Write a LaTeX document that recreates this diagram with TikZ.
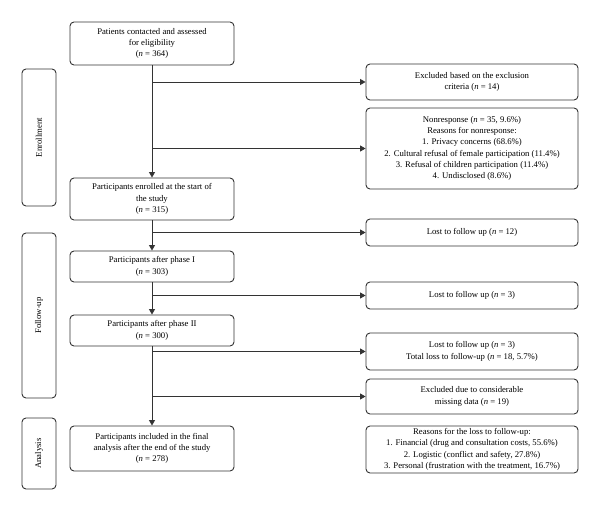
\documentclass[tikz,border=0pt]{standalone}
\usepackage{fontspec}
\setmainfont{Liberation Serif}
\usetikzlibrary{arrows.meta}
\begin{document}
\begin{tikzpicture}[x=1pt,y=-1pt,
  box/.style={draw=black!80, line width=0.9pt, rounded corners=4pt, align=center, inner sep=1pt, text=black,
    font=\fontsize{8.7}{11.3}\selectfont},
  mainbox/.style={box, minimum width=164pt},
  sidebox/.style={box, minimum width=212pt},
  stage/.style={box, minimum width=34pt, rotate=90},
  conn/.style={draw=black!80, line width=0.9pt},
  arr/.style={conn, -{Triangle[length=5.5pt,width=6pt]}}]
\useasboundingbox (0,0) rectangle (600,511);
% main column
\node[mainbox, minimum height=43pt] (b1) at (152,43.5) {Patients contacted and assessed\\for eligibility\\(\textit{n} = 364)};
\node[mainbox, minimum height=42pt] (b2) at (152,199) {Participants enrolled at the start of\\the study\\(\textit{n} = 315)};
\node[mainbox, minimum height=31pt] (b3) at (152,266.5) {Participants after phase I\\(\textit{n} = 303)};
\node[mainbox, minimum height=31pt] (b4) at (152,330.5) {Participants after phase II\\(\textit{n} = 300)};
\node[mainbox, minimum height=45pt] (b5) at (152,448.5) {Participants included in the final\\analysis after the end of the study\\(\textit{n} = 278)};
% stage labels
\node[stage, minimum width=137pt, minimum height=34pt] (s1) at (39,137.5) {Enrollment};
\node[stage, minimum width=165pt, minimum height=34pt] (s2) at (39,315.5) {Follow-up};
\node[stage, minimum width=71pt, minimum height=34pt] (s3) at (39,453.5) {Analysis};
% right column
\node[sidebox, minimum height=36pt] (r1) at (472,82) {Excluded based on the exclusion\\criteria (\textit{n} = 14)};
\node[sidebox, minimum height=81pt] (r2) at (472,148.5) {Nonresponse (\textit{n} = 35, 9.6\%)\\Reasons for nonresponse:\\1. Privacy concerns (68.6\%)\\2. Cultural refusal of female participation (11.4\%)\\3. Refusal of children participation (11.4\%)\\4. Undisclosed (8.6\%)};
\node[sidebox, minimum height=27pt] (r3) at (472,232.5) {Lost to follow up (\textit{n} = 12)};
\node[sidebox, minimum height=27pt] (r4) at (472,295.5) {Lost to follow up (\textit{n} = 3)};
\node[sidebox, minimum height=37pt] (r5) at (472,351.5) {Lost to follow up (\textit{n} = 3)\\Total loss to follow-up (\textit{n} = 18, 5.7\%)};
\node[sidebox, minimum height=35pt] (r6) at (472,396.5) {Excluded due to considerable\\missing data (\textit{n} = 19)};
\node[sidebox, minimum height=47pt] (r7) at (472,449.5) {Reasons for the loss to follow-up:\\1. Financial (drug and consultation costs, 55.6\%)\\2. Logistic (conflict and safety, 27.8\%)\\3. Personal (frustration with the treatment, 16.7\%)};
% vertical flow
\draw[arr] (b1) -- (b2);
\draw[arr] (b2) -- (b3);
\draw[arr] (b3) -- (b4);
\draw[arr] (b4) -- (b5);
% side branches
\draw[arr] (b1.south |- r1.west) -- (r1.west);
\draw[arr] (b1.south |- r2.west) -- (r2.west);
\draw[arr] (b2.south |- r3.west) -- (r3.west);
\draw[arr] (b3.south |- r4.west) -- (r4.west);
\draw[arr] (b4.south |- r5.west) -- (r5.west);
\draw[arr] (b4.south |- r6.west) -- (r6.west);
\end{tikzpicture}
\end{document}
